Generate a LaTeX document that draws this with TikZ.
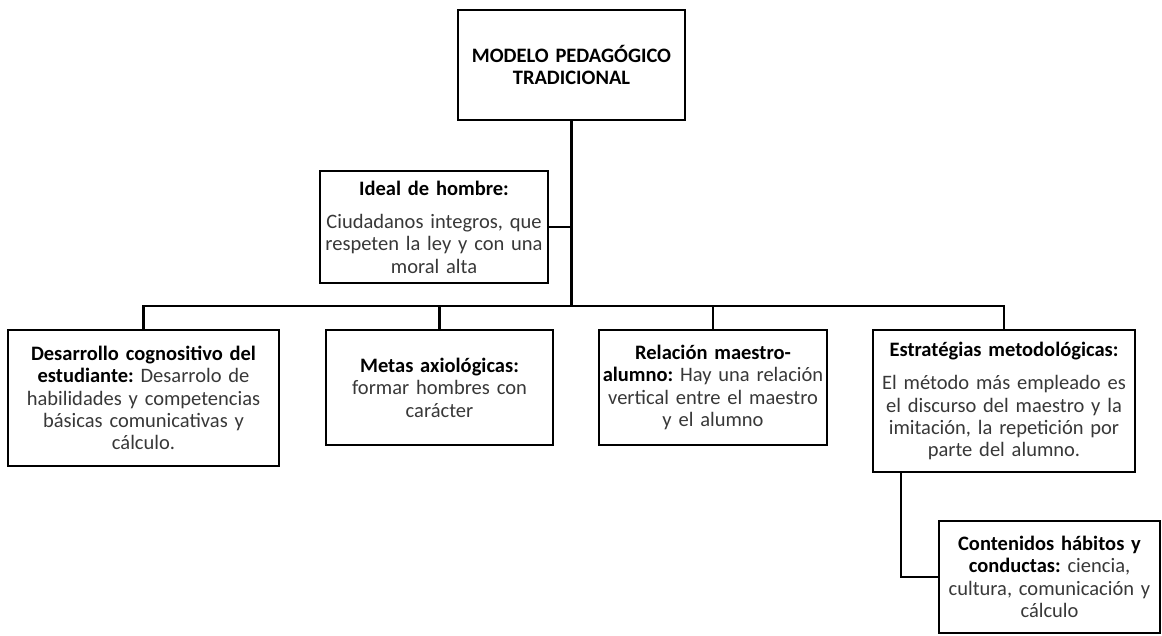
\documentclass[tikz,border=0pt]{standalone}
\usepackage{fontspec}
\setmainfont{Carlito}[WordSpace=0.8]
\usepackage{tikz}
\usetikzlibrary{positioning}
\frenchspacing
\newcommand{\hd}[1]{\textcolor{black}{\textbf{#1}}}
\tikzstyle{concept} = [rectangle, draw=black, line width=2.3pt, fill=white, align=center, inner sep=3pt, text=black!78, font=\fontsize{20.5}{22.4}\selectfont]
\tikzstyle{link} = [line width=2.2pt]

\begin{document}
\begin{tikzpicture}[x=1pt, y=-1pt]
    \useasboundingbox (0,0) rectangle (1162,635);
    \node (modelo) [concept, minimum width=227pt, minimum height=110pt, text width=221pt] at (571.5,65) {\hd{MODELO PEDAGÓGICO}\\\hd{TRADICIONAL}};
    \node (ideal) [concept, minimum width=228pt, minimum height=112pt, text width=222pt] at (434,227) {\hd{Ideal de hombre:}\\[11pt]Ciudadanos integros, que\\respeten la ley y con una\\moral alta};
    \coordinate (bus) at (571,306);
    \node (desarrollo) [concept, minimum width=271pt, minimum height=136pt, text width=265pt] at (143.5,398) {\hd{Desarrollo cognositivo del}\\\hd{estudiante:} Desarrolo de\\habilidades y competencias\\básicas comunicativas y\\cálculo.};
    \node (metas) [concept, minimum width=227pt, minimum height=115pt, text width=221pt] at (439.5,387.5) {\hd{Metas axiológicas:}\\formar hombres con\\carácter};
    \node (relacion) [concept, inner sep=1pt, minimum width=228pt, minimum height=115pt, text width=226pt] at (713,387.5) {\hd{Relación maestro-}\\\hd{alumno:} Hay una relación\\vertical entre el maestro\\y el alumno};
    \node (estrategias) [concept, minimum width=262pt, minimum height=142pt, text width=256pt] at (1004,401) {\hd{Estratégias metodológicas:}\\[11pt]El método más empleado es\\el discurso del maestro y la\\imitación, la repetición por\\parte del alumno.};
    \node (contenidos) [concept, minimum width=221pt, minimum height=112pt, text width=215pt] at (1049.5,577) {\hd{Contenidos hábitos y}\\\hd{conductas:} ciencia,\\cultura, comunicación y\\cálculo};

    \draw [link] (modelo.south) -- (modelo.south |- bus);
    \draw [link] (ideal.east) -- (ideal.east -| modelo.south);
    \draw [link] (desarrollo.north) |- (estrategias.north |- bus) -- (estrategias.north);
    \draw [link] (metas.north) -- (metas.north |- bus);
    \draw [link] (relacion.north) -- (relacion.north |- bus);
    \draw [link] ([xshift=29pt]estrategias.south west) |- (contenidos.west);
\end{tikzpicture}
\end{document}
